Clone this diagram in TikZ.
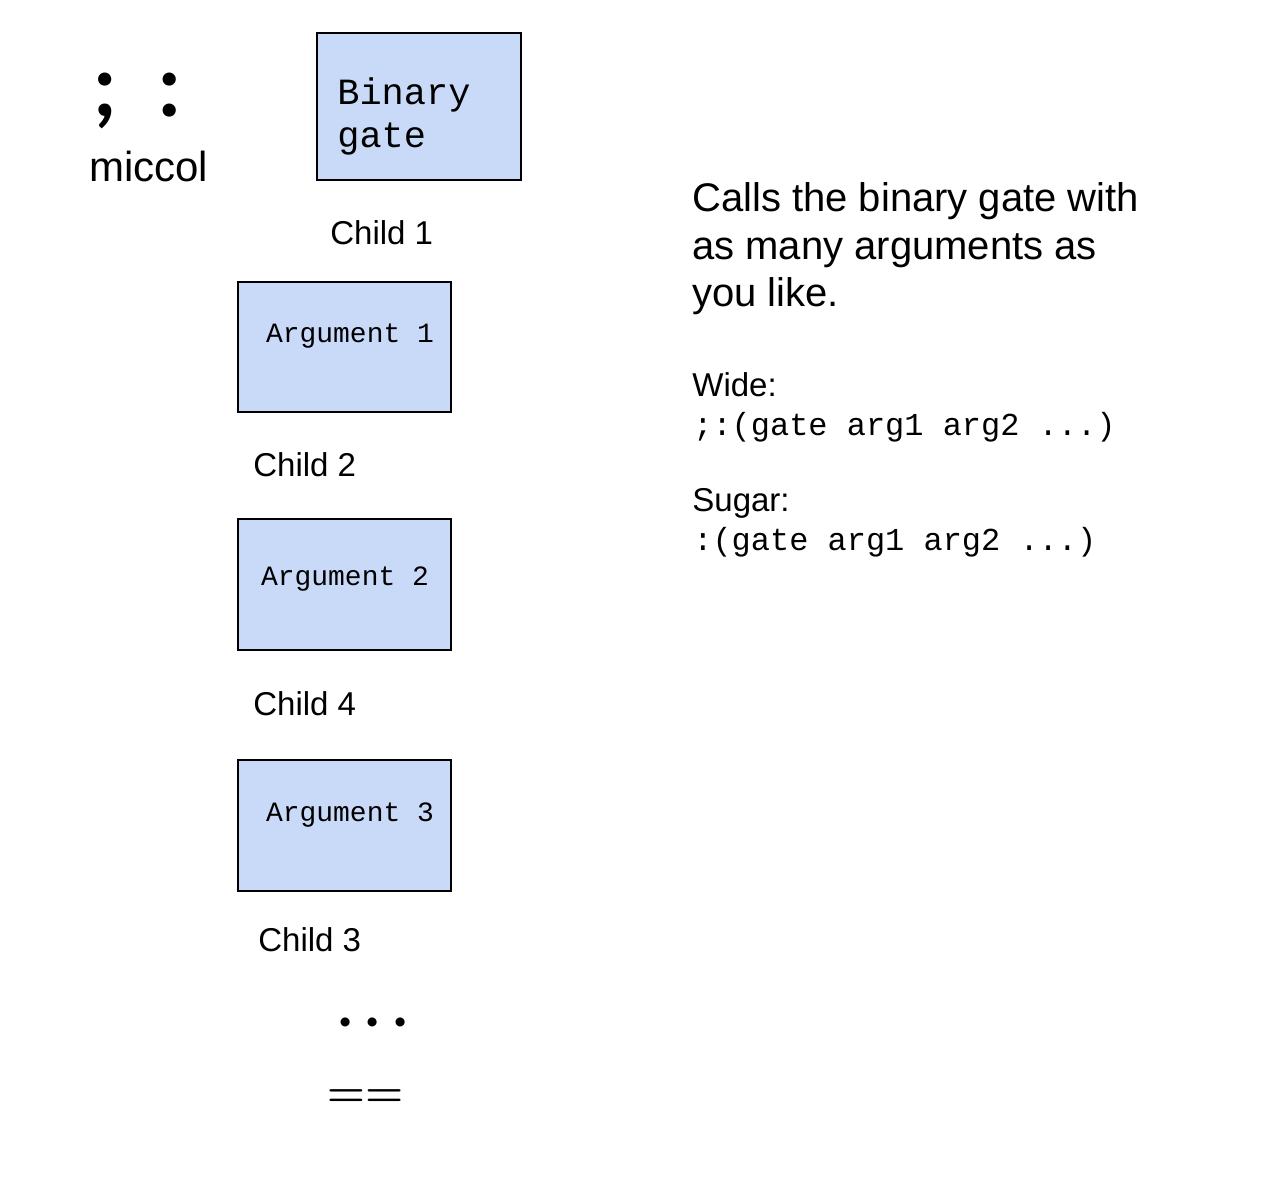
\documentclass[tikz,border=0pt]{standalone}
\usepackage{fontspec}
\setmainfont{Liberation Sans}
\setmonofont{Liberation Mono}
\newfontfamily\dotfont{Lato}
\definecolor{gateblue}{HTML}{C9DAF8}

\tikzset{
  box/.style={draw=black, line width=0.85pt, fill=gateblue, inner sep=0pt},
  childlabel/.style={anchor=base west, inner sep=0pt, font=\fontsize{18.8}{22}\selectfont},
  argtext/.style={inner sep=0pt, font=\ttfamily\fontsize{15.9}{19}\selectfont},
  codetext/.style={anchor=base west, inner sep=0pt, font=\ttfamily\fontsize{18.2}{22}\selectfont},
  bigsign/.style={anchor=base, inner sep=0pt, font=\dotfont\bfseries\fontsize{49.5}{55}\selectfont}
}

\begin{document}
\begin{tikzpicture}[x=0.02cm, y=-0.02cm]
        \useasboundingbox (0,0) rectangle (1278,1192);

        \node[bigsign] (semi) at (105,117) {;};
        \node[bigsign] (colon) at (170,117) {:};
        \node[anchor=base west, inner sep=0pt, font=\fontsize{23.9}{28}\selectfont] (name) at (89,182) {miccol};

        \node[box, minimum width=4.08cm, minimum height=2.94cm] (gate) at (419,106.5) {};
        \node[anchor=base west, inner sep=0pt, align=left, font=\ttfamily\fontsize{21.05}{25}\selectfont] (gatetext) at (337,148) {Binary\\gate};
        \node[childlabel] (child1) at (330,245) {Child 1};

        \node[box, minimum width=4.26cm, minimum height=2.6cm] (arg1) at (344.5,347) {};
        \node[argtext, anchor=base] (arg1text) at (350,343) {Argument 1};
        \node[childlabel] (child2) at (253,477) {Child 2};

        \node[box, minimum width=4.26cm, minimum height=2.62cm] (arg2) at (344.5,584.5) {};
        \node[argtext, anchor=base] (arg2text) at (345,585) {Argument 2};
        \node[childlabel] (child4) at (253,715) {Child 4};

        \node[box, minimum width=4.26cm, minimum height=2.62cm] (arg3) at (344.5,825.5) {};
        \node[argtext, anchor=base] (arg3text) at (350,821) {Argument 3};
        \node[childlabel] (child3) at (258,951) {Child 3};

        \node[anchor=base, inner sep=0pt, font=\dotfont\bfseries\fontsize{34}{38}\selectfont] (dots) at (373,1026) {.\hspace{0.22em}.\hspace{0.22em}.};
        \node[anchor=base, inner sep=0pt, font=\boldmath\fontsize{27.5}{32}\selectfont] (equals) at (365,1106.5) {$==$};

        \node[anchor=base west, inner sep=0pt, align=left, font=\fontsize{22.76}{27.3}\selectfont] (desc) at (692,307) {Calls the binary gate with\\as many arguments as\\you like.};
        \node[childlabel] (wide) at (692,397) {Wide:};
        \node[codetext] (widecode) at (693,436) {;:(gate arg1 arg2 ...)};
        \node[childlabel] (sugar) at (692,512) {Sugar:};
        \node[codetext] (sugarcode) at (693,551) {:(gate arg1 arg2 ...)};
    \end{tikzpicture}
\end{document}
